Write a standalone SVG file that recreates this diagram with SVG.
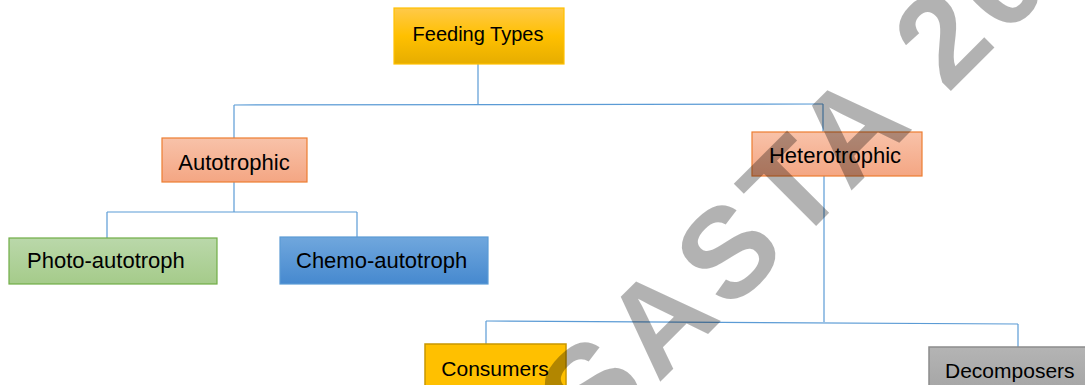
<svg xmlns="http://www.w3.org/2000/svg" width="1085" height="385" viewBox="0 0 1085 385">
<defs>
<linearGradient id="gGold" x1="0" y1="0" x2="0" y2="1"><stop offset="0" stop-color="#ffc94a"/><stop offset="0.5" stop-color="#ffc000"/><stop offset="1" stop-color="#e6ad00"/></linearGradient>
<linearGradient id="gOrange" x1="0" y1="0" x2="0" y2="1"><stop offset="0" stop-color="#f8c2a9"/><stop offset="1" stop-color="#f4a683"/></linearGradient>
<linearGradient id="gGreen" x1="0" y1="0" x2="0" y2="1"><stop offset="0" stop-color="#bad8aa"/><stop offset="1" stop-color="#a5cb8a"/></linearGradient>
<linearGradient id="gBlue" x1="0" y1="0" x2="0" y2="1"><stop offset="0" stop-color="#70a7dd"/><stop offset="1" stop-color="#4689cf"/></linearGradient>
<linearGradient id="gGray" x1="0" y1="0" x2="0" y2="1"><stop offset="0" stop-color="#b4b4b4"/><stop offset="1" stop-color="#a3a3a3"/></linearGradient>
</defs>
<style>
text{font-family:"Liberation Sans",Arial,sans-serif;font-size:21px;fill:#000;}
.lbl{text-anchor:middle;}
.conn line{stroke:#5b9bd5;stroke-width:1.2;fill:none;}
.wm{font-family:"Liberation Sans",Arial,sans-serif;font-weight:bold;font-size:128px;fill:#000;fill-opacity:0.3;letter-spacing:8px;}
</style>
<rect width="1085" height="385" fill="#fff"/>
<g id="connectors" class="conn">
<line x1="478" y1="64" x2="478" y2="105"/>
<line x1="234" y1="105" x2="823" y2="104"/>
<line x1="234" y1="105" x2="234" y2="138"/>
<line x1="823" y1="104" x2="823" y2="132"/>
<line x1="234" y1="182" x2="234" y2="212"/>
<line x1="107" y1="212" x2="357" y2="212"/>
<line x1="107" y1="212" x2="107" y2="238"/>
<line x1="357" y1="212" x2="357" y2="237"/>
<line x1="824" y1="176" x2="824" y2="322"/>
<line x1="486" y1="321" x2="1018" y2="324"/>
<line x1="486" y1="321" x2="486" y2="344"/>
<line x1="1018" y1="324" x2="1018" y2="347"/>
</g>
<g id="feeding-types">
<rect x="394" y="8" width="170" height="56" fill="url(#gGold)" stroke="#ffc000" stroke-width="1.2"/>
<text class="lbl" x="478" y="41" style="font-size:20px">Feeding Types</text>
</g>
<g id="autotrophic">
<rect x="162" y="138" width="145" height="44" fill="url(#gOrange)" stroke="#ed7d31" stroke-width="1.2"/>
<text class="lbl" x="234" y="170" style="font-size:22px">Autotrophic</text>
</g>
<g id="heterotrophic">
<rect x="752" y="132" width="170" height="44" fill="url(#gOrange)" stroke="#ed7d31" stroke-width="1.2"/>
<text class="lbl" x="835" y="163" style="font-size:22px">Heterotrophic</text>
</g>
<g id="photo-autotroph">
<rect x="9" y="238" width="208" height="46" fill="url(#gGreen)" stroke="#70ad47" stroke-width="1.2"/>
<text x="27" y="268" style="font-size:22px">Photo-autotroph</text>
</g>
<g id="chemo-autotroph">
<rect x="280" y="237" width="208" height="47" fill="url(#gBlue)" stroke="#5b9bd5" stroke-width="1.2"/>
<text x="296" y="268" style="font-size:22px">Chemo-autotroph</text>
</g>
<g id="consumers">
<rect x="425" y="344" width="141" height="50" fill="#ffc000" stroke="#c99700" stroke-width="1.5"/>
<text class="lbl" x="495" y="376">Consumers</text>
</g>
<g id="decomposers">
<rect x="929" y="347" width="170" height="50" fill="url(#gGray)" stroke="#8c8c8c" stroke-width="1.5"/>
<text x="945" y="378">Decomposers</text>
</g>
<text class="wm" x="592" y="450" transform="rotate(-45 592 450)">SASTA 20</text>
</svg>
